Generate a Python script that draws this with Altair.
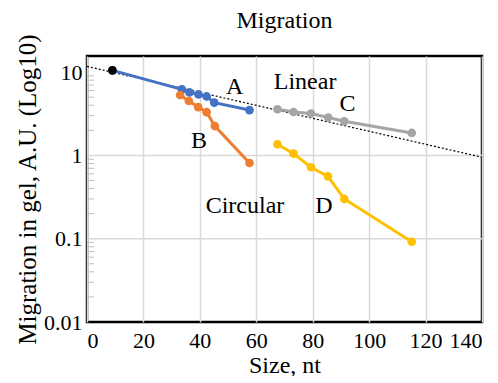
import altair as alt
import pandas as pd

FONT = "Liberation Serif"

# Series values
a_x = [9, 33.6, 36.3, 39.5, 42.4, 45.1, 57.6]
a_y = [10.5, 6.2, 5.7, 5.4, 5.1, 4.3, 3.5]
b_x = [33.0, 36.1, 39.4, 42.4, 45.3, 57.6]
b_y = [5.3, 4.5, 3.8, 3.3, 2.25, 0.81]
c_x = [67.5, 73.2, 79.4, 85.5, 91.2, 115.1]
c_y = [3.58, 3.32, 3.18, 2.85, 2.57, 1.86]
d_x = [67.5, 73.2, 79.4, 85.4, 91.2, 115.1]
d_y = [1.36, 1.05, 0.72, 0.56, 0.30, 0.092]

black_x = [9]
black_y = [10.5]

trend_x = [0, 140]
trend_y = [11.7, 0.95]

label_text = ["A", "B", "Linear", "C", "Circular", "D"]
label_x = [52.3, 39.7, 77.3, 92.3, 56.0, 84.0]
label_y = [6.7, 1.5, 7.5, 4.1, 0.25, 0.25]

title_text = ["Migration"]

y_major = [0.01, 0.1, 1, 10]
y_grid = [0.1, 1]
y_minor = [m * d for d in [0.01, 0.1, 1] for m in range(2, 10)]
x_ticks = [0, 20, 40, 60, 80, 100, 120, 140]

series = []
for name, xs, ys in [("A", a_x, a_y), ("B", b_x, b_y), ("C", c_x, c_y), ("D", d_x, d_y)]:
    for i, (xv, yv) in enumerate(zip(xs, ys)):
        series.append({"series": name, "order": i, "x": xv, "y": yv})
df = pd.DataFrame(series)

colors = alt.Scale(domain=["A", "B", "C", "D"],
                   range=["#4472C4", "#ED7D31", "#A5A5A5", "#FFC000"])

xscale = alt.Scale(domain=[0, 140], nice=False, zero=False)
yscale = alt.Scale(type="log", domain=[0.01, 15.6], nice=False)

xaxis = alt.Axis(values=x_ticks, grid=True, gridColor="#d9d9d9", gridWidth=1.5,
                 ticks=False, domain=False, labelFont=FONT, labelFontSize=22,
                 labelColor="black", labelPadding=8, title="Size, nt",
                 titleFont=FONT, titleFontSize=24, titleFontWeight="normal",
                 titleColor="black", titlePadding=2)
yaxis = alt.Axis(values=y_major, format="~g", grid=False, ticks=False,
                 domain=False, labelFont=FONT, labelFontSize=22,
                 labelColor="black", labelPadding=5,
                 title="Migration in gel, A.U. (Log10)", titleFont=FONT,
                 titleFontSize=25, titleFontWeight="normal", titleColor="black",
                 titlePadding=3)

# horizontal grid lines
grid = alt.Chart(pd.DataFrame({"y": y_grid})).mark_rule(
    color="#d9d9d9", strokeWidth=1.5
).encode(y=alt.Y("y:Q", scale=yscale, axis=yaxis))

minor = alt.Chart(pd.DataFrame({"y": y_minor})).mark_rule(
    color="#bfbfbf", strokeWidth=1
).encode(y=alt.Y("y:Q", scale=yscale), x=alt.value(0), x2=alt.value(7))

trend = alt.Chart(pd.DataFrame({"x": trend_x, "y": trend_y})).mark_line(
    color="black", strokeDash=[2, 2], strokeWidth=1.2
).encode(x=alt.X("x:Q", scale=xscale, axis=xaxis), y=alt.Y("y:Q", scale=yscale))

lines = alt.Chart(df).mark_line(strokeWidth=3).encode(
    x=alt.X("x:Q", scale=xscale),
    y=alt.Y("y:Q", scale=yscale),
    color=alt.Color("series:N", scale=colors, legend=None),
    detail="series:N",
    order="order:Q",
)
points = alt.Chart(df).mark_circle(size=75, opacity=1).encode(
    x=alt.X("x:Q", scale=xscale),
    y=alt.Y("y:Q", scale=yscale),
    color=alt.Color("series:N", scale=colors, legend=None),
)
black = alt.Chart(pd.DataFrame({"x": black_x, "y": black_y})).mark_circle(
    size=75, opacity=1, color="black"
).encode(x=alt.X("x:Q", scale=xscale), y=alt.Y("y:Q", scale=yscale))

labels = alt.Chart(pd.DataFrame({"x": label_x, "y": label_y, "t": label_text})).mark_text(
    font=FONT, fontSize=24, color="black", align="center", baseline="middle"
).encode(x=alt.X("x:Q", scale=xscale), y=alt.Y("y:Q", scale=yscale), text="t:N")

title = alt.Chart(pd.DataFrame({"t": title_text})).mark_text(
    font=FONT, fontSize=24, color="black", align="center", baseline="middle"
).encode(x=alt.value(197.5), y=alt.value(-35), text="t:N")

chart = alt.layer(grid, minor, trend, lines, points, black, labels, title).properties(
    width=395, height=266,
    autosize=alt.AutoSizeParams(type="none"),
    padding={"left": 79, "top": 48, "right": 8, "bottom": 54},
).configure_view(stroke="black", strokeWidth=2.5)

chart.save("out.html", embed_options={"renderer": "svg", "actions": False})
